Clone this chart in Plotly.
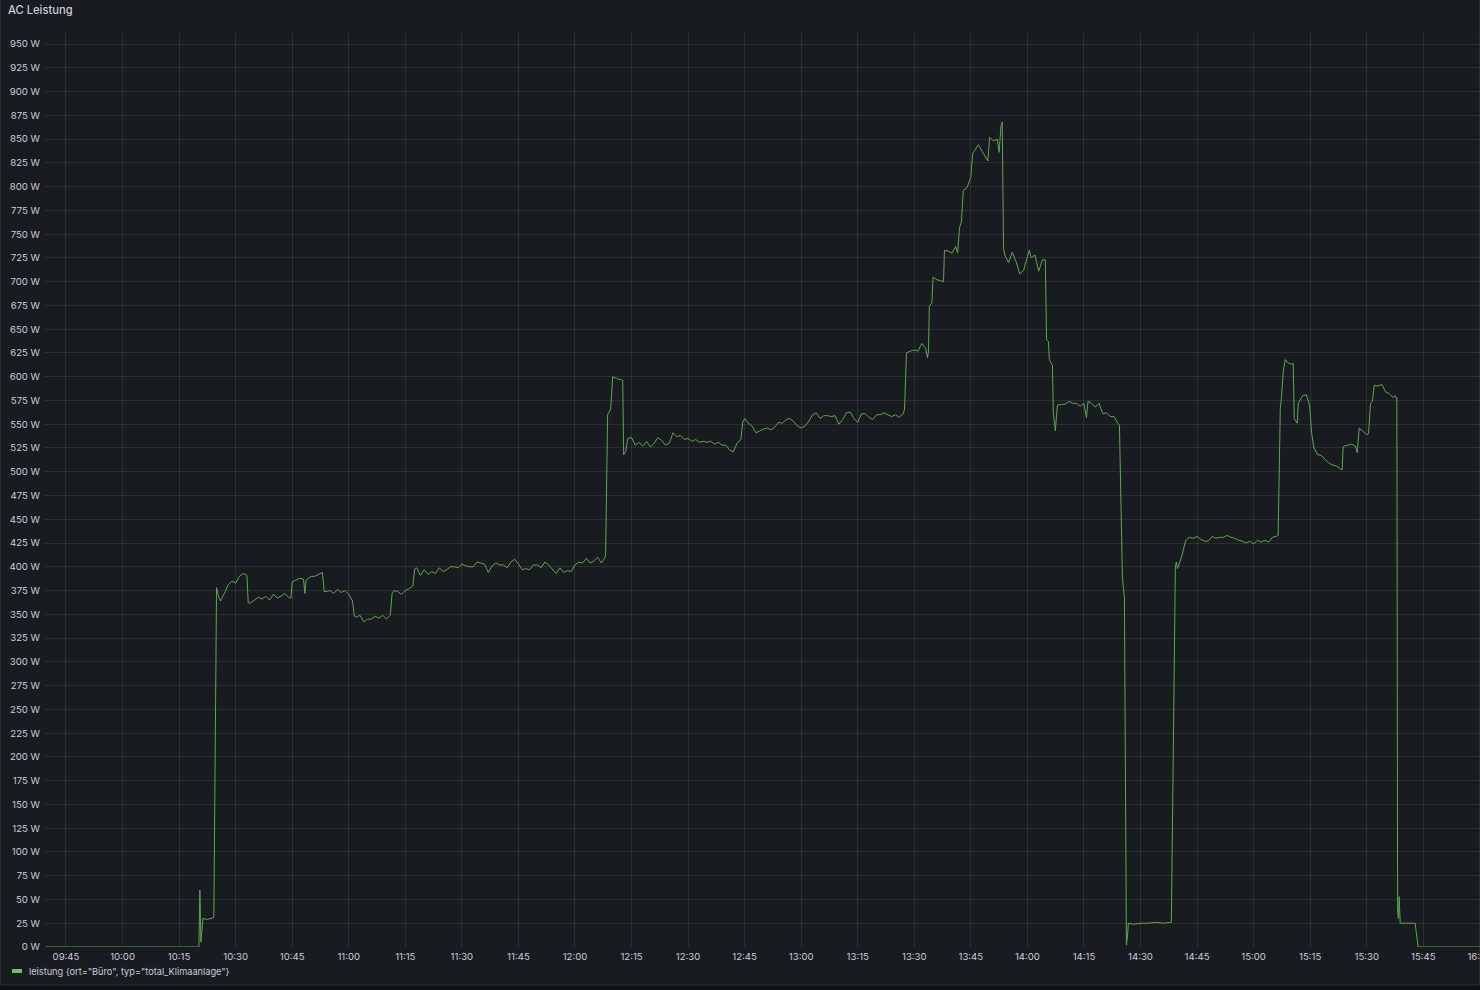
import plotly.graph_objects as go
import pandas as pd

DAY = "2024-07-15"
PANEL_TITLE = "AC Leistung"
SERIES_NAME = 'leistung {ort="Büro", typ="total_Klimaanlage"}'

times = [
    "09:39:30", "10:20:15", "10:20:31", "10:20:47", "10:21:19", "10:22:30", "10:24:13", "10:24:56",
    "10:25:30", "10:26:00", "10:27:00", "10:28:00", "10:29:00", "10:30:00", "10:31:00", "10:32:00",
    "10:33:00", "10:33:20", "10:34:00", "10:35:00", "10:36:00", "10:37:00", "10:38:00", "10:39:00",
    "10:40:00", "10:41:00", "10:42:00", "10:43:00", "10:44:00", "10:44:40", "10:45:00", "10:46:00",
    "10:47:00", "10:48:00", "10:48:22", "10:48:40", "10:49:00", "10:50:00", "10:51:00", "10:52:00",
    "10:53:00", "10:53:30", "10:54:00", "10:55:00", "10:56:00", "10:57:00", "10:58:00", "10:59:00",
    "11:00:00", "11:01:00", "11:01:30", "11:02:00", "11:03:00", "11:04:00", "11:05:00", "11:06:00",
    "11:07:00", "11:08:00", "11:09:00", "11:10:00", "11:11:00", "11:11:30", "11:12:00", "11:13:00",
    "11:14:00", "11:15:00", "11:16:00", "11:17:00", "11:17:30", "11:18:00", "11:19:00", "11:20:00",
    "11:21:00", "11:22:00", "11:23:00", "11:24:00", "11:25:00", "11:26:00", "11:27:00", "11:28:00",
    "11:29:00", "11:30:00", "11:31:00", "11:32:00", "11:33:00", "11:34:00", "11:35:00", "11:36:00",
    "11:37:00", "11:38:00", "11:39:00", "11:40:00", "11:41:00", "11:42:00", "11:43:00", "11:44:00",
    "11:45:00", "11:46:00", "11:47:00", "11:48:00", "11:49:00", "11:50:00", "11:51:00", "11:52:00",
    "11:53:00", "11:54:00", "11:55:00", "11:56:00", "11:57:00", "11:58:00", "11:59:00", "12:00:00",
    "12:01:00", "12:02:00", "12:03:00", "12:04:00", "12:05:00", "12:06:00", "12:07:00", "12:08:00",
    "12:08:08", "12:08:40", "12:09:28", "12:10:00", "12:11:00", "12:12:00", "12:12:40", "12:12:55",
    "12:13:30", "12:14:00", "12:15:00", "12:16:00", "12:17:00", "12:18:00", "12:19:00", "12:20:00",
    "12:21:00", "12:22:00", "12:23:00", "12:24:00", "12:25:00", "12:26:00", "12:27:00", "12:28:00",
    "12:29:00", "12:30:00", "12:31:00", "12:32:00", "12:33:00", "12:34:00", "12:35:00", "12:36:00",
    "12:37:00", "12:38:00", "12:39:00", "12:40:00", "12:41:00", "12:42:00", "12:43:00", "12:44:00",
    "12:44:30", "12:45:00", "12:46:00", "12:47:00", "12:48:00", "12:49:00", "12:50:00", "12:51:00",
    "12:52:00", "12:53:00", "12:54:00", "12:55:00", "12:56:00", "12:57:00", "12:58:00", "12:59:00",
    "13:00:00", "13:01:00", "13:02:00", "13:03:00", "13:04:00", "13:05:00", "13:06:00", "13:07:00",
    "13:08:00", "13:09:00", "13:10:00", "13:11:00", "13:12:00", "13:13:00", "13:14:00", "13:15:00",
    "13:16:00", "13:17:00", "13:18:00", "13:19:00", "13:20:00", "13:21:00", "13:22:00", "13:23:00",
    "13:24:00", "13:25:00", "13:26:00", "13:27:00", "13:27:24", "13:27:56", "13:29:00", "13:30:00",
    "13:31:00", "13:32:00", "13:33:00", "13:33:30", "13:33:45", "13:34:00", "13:34:40", "13:35:00",
    "13:36:00", "13:37:00", "13:37:45", "13:38:00", "13:39:00", "13:40:00", "13:41:00", "13:41:30",
    "13:42:00", "13:42:30", "13:43:00", "13:44:00", "13:45:00", "13:45:30", "13:46:00", "13:47:00",
    "13:48:00", "13:49:00", "13:49:30", "13:50:00", "13:51:00", "13:52:00", "13:52:30", "13:53:00",
    "13:53:20", "13:53:40", "13:54:00", "13:55:00", "13:56:00", "13:57:00", "13:58:00", "13:59:00",
    "14:00:00", "14:00:30", "14:01:00", "14:02:00", "14:03:00", "14:04:00", "14:04:45", "14:05:05",
    "14:05:35", "14:05:50", "14:06:38", "14:06:53", "14:07:25", "14:07:57", "14:09:00", "14:10:00",
    "14:11:00", "14:12:00", "14:13:00", "14:14:00", "14:15:00", "14:15:40", "14:16:05", "14:17:00",
    "14:18:00", "14:19:00", "14:20:00", "14:21:00", "14:22:00", "14:23:00", "14:24:00", "14:24:25",
    "14:25:12", "14:25:44", "14:26:16", "14:26:32", "14:26:47", "14:28:00", "14:30:00", "14:32:00",
    "14:34:00", "14:36:00", "14:38:11", "14:39:15", "14:39:31", "14:39:47", "14:40:00", "14:41:00",
    "14:42:00", "14:43:00", "14:44:00", "14:45:00", "14:46:00", "14:47:00", "14:48:00", "14:49:00",
    "14:50:00", "14:51:00", "14:52:00", "14:53:00", "14:54:00", "14:55:00", "14:56:00", "14:57:00",
    "14:58:00", "14:59:00", "15:00:00", "15:01:00", "15:02:00", "15:03:00", "15:04:00", "15:05:00",
    "15:06:00", "15:06:30", "15:07:05", "15:07:21", "15:07:52", "15:08:24", "15:09:00", "15:10:00",
    "15:10:30", "15:10:47", "15:11:35", "15:11:51", "15:13:00", "15:14:00", "15:14:51", "15:15:23",
    "15:16:00", "15:17:00", "15:18:00", "15:19:00", "15:20:00", "15:21:00", "15:22:00", "15:23:00",
    "15:23:30", "15:23:45", "15:24:00", "15:25:00", "15:26:00", "15:27:00", "15:27:30", "15:28:00",
    "15:29:00", "15:30:00", "15:30:30", "15:31:00", "15:31:30", "15:32:00", "15:33:00", "15:34:00",
    "15:35:00", "15:36:00", "15:37:00", "15:37:30", "15:37:45", "15:38:00", "15:38:12", "15:38:24",
    "15:38:37", "15:38:53", "15:42:51", "15:43:39", "16:00:00",
]

watts = [
    0, 0, 60, 5, 30, 29, 31, 378,
    368, 364, 372, 381, 385, 383, 390, 393,
    391, 362, 362, 365, 368, 366, 369, 365,
    371, 367, 369, 372, 368, 367, 384, 386,
    388, 387, 372, 386, 387, 390, 390, 392,
    394, 374, 374, 375, 372, 376, 373, 375,
    371, 364, 348, 347, 349, 342, 345, 345,
    348, 346, 349, 345, 349, 372, 375, 374,
    371, 375, 377, 380, 398, 399, 391, 397,
    392, 395, 393, 399, 395, 397, 400, 400,
    399, 403, 401, 400, 400, 405, 404, 403,
    394, 401, 404, 402, 402, 399, 405, 408,
    403, 397, 398, 397, 402, 402, 399, 405,
    402, 398, 393, 399, 394, 396, 395, 402,
    405, 404, 409, 404, 406, 410, 404, 410,
    414, 560, 566, 600, 598, 597, 596, 518,
    522, 535, 536, 528, 531, 527, 532, 526,
    530, 536, 533, 528, 530, 541, 537, 538,
    534, 535, 532, 534, 531, 532, 531, 532,
    529, 531, 528, 528, 523, 521, 530, 534,
    552, 556, 551, 548, 541, 543, 545, 546,
    544, 547, 552, 551, 555, 556, 553, 548,
    546, 548, 553, 560, 562, 556, 559, 559,
    558, 559, 550, 555, 562, 563, 556, 552,
    561, 561, 557, 555, 560, 560, 562, 560,
    558, 560, 557, 561, 565, 625, 627, 628,
    627, 635, 630, 620, 626, 674, 678, 705,
    702, 701, 700, 733, 732, 730, 737, 730,
    757, 763, 796, 799, 810, 835, 838, 844,
    837, 831, 827, 852, 848, 850, 836, 864,
    868, 735, 728, 720, 731, 721, 708, 712,
    726, 733, 725, 728, 711, 723, 723, 639,
    637, 618, 612, 562, 543, 570, 571, 571,
    574, 572, 572, 569, 572, 557, 574, 572,
    568, 572, 561, 562, 558, 558, 551, 549,
    389, 367, 2, 10, 25, 24, 25, 25,
    26, 25, 26, 400, 405, 398, 400, 412,
    428, 431, 430, 432, 429, 427, 427, 432,
    430, 431, 431, 433, 431, 430, 428, 427,
    425, 427, 424, 428, 426, 428, 426, 431,
    432, 433, 567, 576, 605, 618, 615, 613,
    614, 556, 551, 572, 580, 581, 570, 541,
    525, 518, 517, 513, 509, 507, 506, 503,
    502, 526, 527, 528, 529, 527, 520, 546,
    542, 539, 540, 572, 574, 591, 590, 592,
    584, 582, 578, 580, 578, 578, 38, 30,
    53, 25, 25, 0, 0,
]

y_ticks = list(range(0, 951, 25))
y_tick_labels = [f"{v} W" for v in y_ticks]

LINE_COLOR = "#5fa653"
LEGEND_COLOR = "#73BF69"
TEXT_COLOR = "#ccccdc"
GRID_COLOR = "rgba(240,250,255,0.09)"
PANEL_BG = "#181b1f"
CANVAS_BG = "#111217"
FONT = "Inter, Roboto, 'Open Sans', sans-serif"

x = pd.to_datetime([f"{DAY} {t}" for t in times])

fig = go.Figure()
fig.add_trace(go.Scatter(
    x=x, y=watts, mode="lines", name=SERIES_NAME,
    line=dict(color=LINE_COLOR, width=1), showlegend=False,
))

W, H = 1480, 990
L, R, T, B = 45, 0, 33, 43
pw, ph = W - L - R, H - T - B

def px_x(px):
    return (px - L) / pw

def px_y(py):
    return (H - B - py) / ph

fig.update_layout(
    width=W, height=H,
    margin=dict(l=L, r=R, t=T, b=B, pad=0),
    paper_bgcolor=CANVAS_BG,
    plot_bgcolor=PANEL_BG,
    font=dict(family=FONT, color=TEXT_COLOR, size=9.6),
    title=dict(text=PANEL_TITLE, x=8 / W, xref="container", xanchor="left",
               y=1 - 10 / H, yref="container", yanchor="middle",
               font=dict(family=FONT, size=11.2, color=TEXT_COLOR, weight=500)),
    showlegend=False,
    xaxis=dict(
        type="date",
        range=[f"{DAY} 09:39:26", f"{DAY} 16:00:03"],
        tick0=f"{DAY} 09:45:00", dtick=15 * 60 * 1000,
        tickformat="%H:%M",
        showgrid=True, gridcolor=GRID_COLOR, gridwidth=1,
        zeroline=False, showline=False, ticks="",
        tickfont=dict(size=9.6, color=TEXT_COLOR),
        ticklabelstandoff=2,
        ticklabeloverflow="allow",
        automargin=False, fixedrange=True,
    ),
    yaxis=dict(
        range=[0, 961.6],
        tickmode="array", tickvals=y_ticks, ticktext=y_tick_labels,
        showgrid=True, gridcolor=GRID_COLOR, gridwidth=1,
        zeroline=False, showline=False, ticks="",
        tickfont=dict(size=9.6, color=TEXT_COLOR),
        ticklabelstandoff=4,
        automargin=False, fixedrange=True,
    ),
    shapes=[
        dict(type="rect", xref="paper", yref="paper",
             x0=px_x(0.5), x1=px_x(1479.5), y0=px_y(985), y1=px_y(-1),
             line=dict(color="rgba(204,204,220,0.12)", width=1),
             fillcolor=PANEL_BG, layer="below"),
        dict(type="line", xref="paper", yref="paper",
             x0=px_x(12), x1=px_x(22), y0=px_y(971), y1=px_y(971),
             line=dict(color=LEGEND_COLOR, width=4)),
    ],
    annotations=[
        dict(text=SERIES_NAME, xref="paper", yref="paper",
             x=px_x(27), y=px_y(971), xanchor="left", yanchor="middle",
             showarrow=False, font=dict(family=FONT, size=9.2, color=TEXT_COLOR)),
    ],
)

fig.write_html(
    "out.html",
    config={"displayModeBar": False},
    post_script="document.body.style.margin='0';document.body.style.overflow='hidden';"
                "document.body.style.background='#111217';",
)
